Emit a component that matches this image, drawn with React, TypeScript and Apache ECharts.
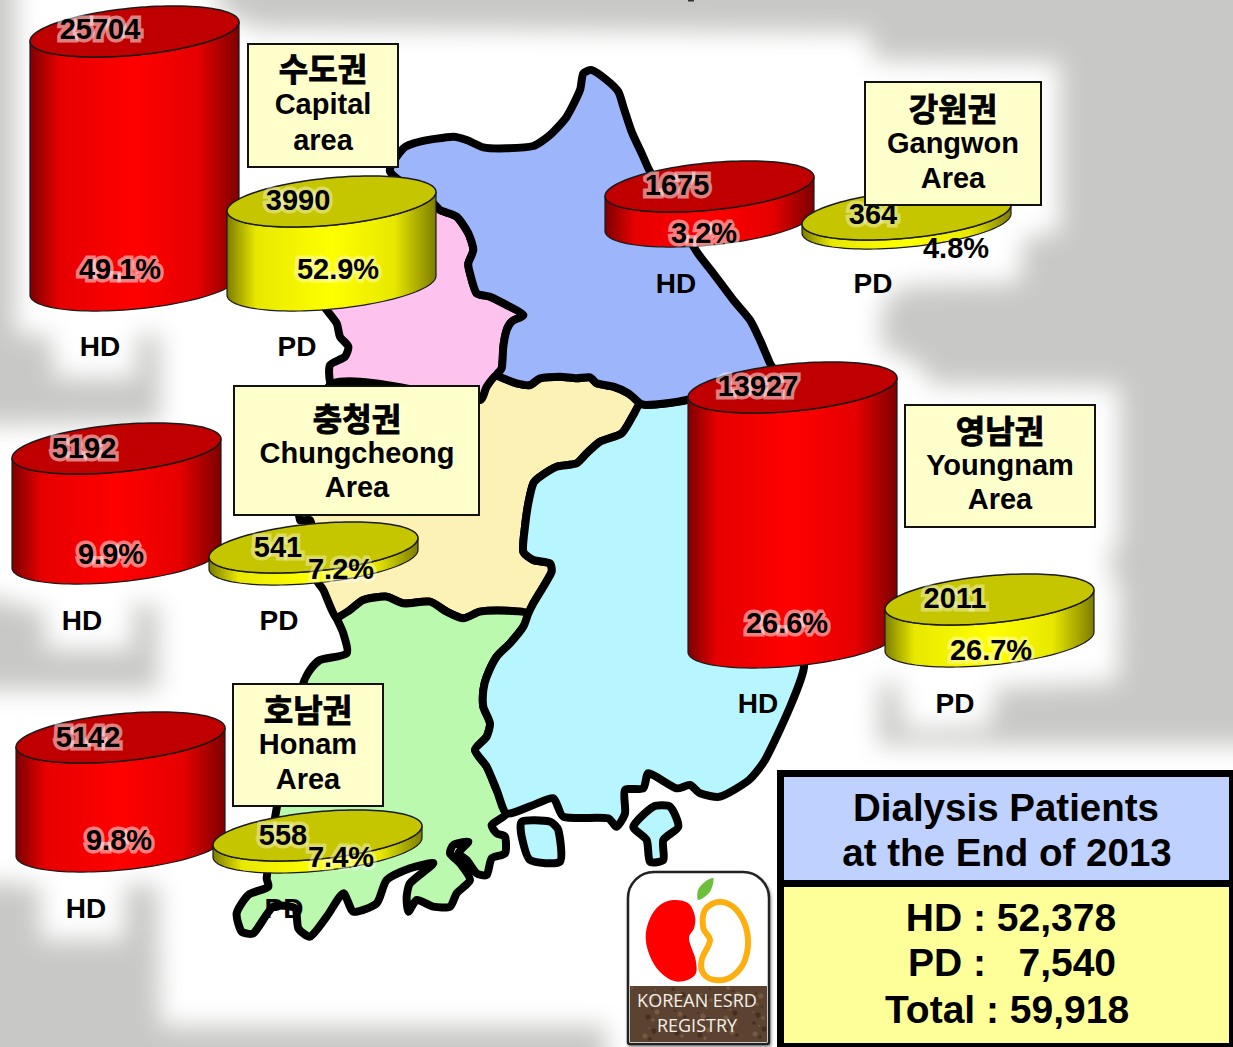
import React, { useEffect, useRef } from "react";
import * as echarts from "echarts";

// ---- data ----
const regionsKo = ["수도권", "강원권", "충청권", "호남권", "영남권"];
const regionsEn = [["Capital", "area"], ["Gangwon", "Area"], ["Chungcheong", "Area"], ["Honam", "Area"], ["Youngnam", "Area"]];
const hdValues = [25704, 1675, 5192, 5142, 13927];
const pdValues = [3990, 364, 541, 558, 2011];
const hdShare = ["49.1%", "3.2%", "9.9%", "9.8%", "26.6%"];
const pdShare = ["52.9%", "4.8%", "7.2%", "7.4%", "26.7%"];
const hdDrawnHeight = [254, 35, 110, 109, 255];
const pdDrawnHeight = [84, 9, 12, 12, 42];
const summaryTitle = ["Dialysis Patients", "at the End of 2013"];
const summaryLines = ["HD : 52,378", "PD :   7,540", "Total : 59,918"];

// ---- layout ----
const ARIAL = '"Liberation Sans", Arial, sans-serif';
const KO = '"Noto Sans CJK KR", sans-serif';
const hdAnchor = [[30, 6], [605, 161], [12, 423], [16, 712], [688, 362]];
const pdAnchor = [[227, 176], [802, 189], [209, 522], [213, 810], [885, 574]];
const hdValuePos = [[100, 30], [677, 186], [84, 449], [88, 738], [758, 387]];
const hdSharePos = [[120, 270], [704, 234], [111, 555], [119, 841], [787, 624]];
const pdValuePos = [[298, 201], [873, 215], [278, 548], [283, 836], [955, 599]];
const pdSharePos = [[338, 270], [956, 249], [341, 570], [341, 858], [991, 651]];
const hdTagPos = [[100, 347], [676, 284], [82, 621], [86, 909], [758, 704]];
const pdTagPos = [[297, 347], [873, 284], [279, 621], [284, 909], [955, 704]];
const boxes = [
  { x: 248, y: 44, w: 150, h: 123, cx: 323, ys: [68, 105, 141] },
  { x: 865, y: 82, w: 176, h: 123, cx: 953, ys: [108, 144, 179] },
  { x: 234, y: 386, w: 245, h: 129, cx: 357, ys: [418, 454, 488] },
  { x: 233, y: 684, w: 150, h: 122, cx: 308, ys: [709, 745, 780] },
  { x: 905, y: 405, w: 190, h: 122, cx: 1000, ys: [430, 466, 500] },
];

const z = (ox: number, oy: number, pts: number[][]) => pts.map(([x, y]) => [ox + x / 3, oy + y / 3]);

const whiteArea = [
  [15, -40], [215, -40], [218, 8], [255, 28], [868, 32], [875, 60], [1060, 62], [1060, 232], [1024, 238], [1020, 283], [908, 286],
  [884, 300], [880, 345], [925, 368], [928, 384], [1120, 386], [1120, 540], [1108, 560], [1120, 590], [1118, 682], [996, 688], [990, 727], [905, 730],
  [897, 682], [880, 682], [878, 745], [1300, 745], [1300, 1100], [606, 1100], [606, 1026], [160, 1026], [158, 885], [125, 885], [125, 940],
  [40, 940], [40, 886], [-40, 880], [-40, 690], [158, 690], [158, 605], [133, 605], [133, 650], [45, 650], [45, 612], [-40, 590],
  [-40, 425], [160, 422], [160, 335], [137, 335], [137, 378], [55, 378], [50, 335], [15, 335],
];

const blueSide = z(320, 60, [
  [210, 335], [250, 265], [300, 245], [400, 230], [440, 240], [490, 262], [560, 265], [640, 258], [690, 225], [740, 170], [780, 90],
  [790, 40], [815, 30], [860, 60], [895, 95], [910, 140], [935, 215], [965, 280], [990, 335], [1130, 575], [1180, 640], [1240, 720],
  [1290, 780], [1320, 840], [1350, 910], [1370, 950],
]);
const midBorder = z(300, 370, [
  [1160, 90], [1100, 100], [1040, 105], [1020, 100], [985, 70], [940, 50], [890, 40], [870, 22], [830, 25], [780, 20], [720, 25],
  [690, 45], [650, 40], [610, 25], [590, 15],
]);
const pinkBorder = z(320, 60, [
  [545, 925], [550, 860], [560, 810], [575, 785], [610, 765], [560, 735], [510, 710], [470, 700], [450, 640], [445, 610], [460, 570],
  [445, 520], [410, 470], [360, 450], [340, 430],
]);
const blueArea = [...blueSide, ...midBorder, ...pinkBorder];
const pinkArea = pinkBorder.concat(z(320, 60, [[100, 600], [0, 720], [20, 750], [50, 790], [60, 830], [85, 860], [75, 890], [30, 915], [30, 965], [60, 1050], [400, 1060], [500, 1000]]));
const paleEast = z(300, 370, [
  [1020, 100], [1000, 135], [965, 190], [900, 215], [860, 250], [830, 280], [770, 290], [720, 320], [700, 340], [685, 400], [675, 470],
  [670, 545], [700, 570], [750, 580], [755, 605], [730, 650], [700, 700], [685, 730],
]);
const paleSouth = z(300, 370, [
  [620, 722], [540, 725], [490, 745], [440, 725], [390, 695], [310, 700], [260, 680], [190, 690], [150, 720], [110, 745],
]);
const paleArea = [
  ...z(300, 370, [[540, 90], [560, 50], [590, 15], [610, 25], [650, 40], [690, 45], [720, 25], [780, 20], [830, 25], [870, 22], [890, 40], [940, 50], [985, 70]]),
  ...paleEast, ...paleSouth,
  ...z(300, 370, [[70, 660], [50, 630], [40, 500], [30, 450], [0, 450], [-10, 300], [100, 40]]),
];
const greenEast = z(220, 690, [
  [790, 0], [790, 50], [810, 100], [800, 140], [765, 180], [800, 230], [830, 300], [860, 370],
]);
const greenCoast = z(220, 690, [
  [815, 405], [830, 430], [855, 440], [855, 490], [815, 505], [800, 555], [770, 550], [740, 510], [715, 490], [745, 455], [700, 465], [690, 490],
  [720, 520], [750, 570], [710, 610], [690, 650], [640, 650], [590, 630], [565, 665], [560, 620], [570, 580], [640, 520], [570, 535], [500, 570],
  [470, 640], [400, 665], [370, 610], [320, 680], [270, 740], [235, 715], [225, 655], [160, 650], [100, 730], [65, 725], [50, 670], [85, 615], [145, 590],
  [140, 565], [170, 355],
]);
const greenArea = [
  ...z(300, 370, [[685, 730], [670, 770], [630, 820], [590, 860], [560, 920]]), ...greenEast, ...greenCoast,
  ...z(300, 370, [[10, 940], [30, 900], [60, 870], [140, 850], [130, 790], [110, 745]]),
  ...paleSouth.slice().reverse(),
];
const cyanArea = [
  ...z(300, 370, [[1020, 100], [1040, 105], [1100, 100], [1160, 90]]),
  [780, 390], [810, 500], [804, 667], [790, 707], [765, 760], [749, 780],
  ...z(220, 690, [[1500, 320], [1440, 310], [1410, 285], [1370, 295], [1285, 250], [1270, 295], [1215, 300], [1215, 370], [1190, 410], [1165, 385], [1030, 380], [1000, 325], [940, 345]]),
  ...greenEast.slice().reverse(),
  ...z(300, 370, [[560, 920], [590, 860], [630, 820], [670, 770]]),
  ...paleEast.slice().reverse().slice(0, -1),
];
const islandA = z(220, 690, [[905, 395], [990, 395], [1015, 420], [1020, 515], [930, 510], [905, 440]]);
const islandB = z(220, 690, [[1240, 410], [1300, 350], [1350, 350], [1375, 410], [1330, 450], [1330, 510], [1290, 515], [1280, 450]]);

const redKidney = z(620, 860, [[160, 120], [205, 130], [225, 170], [222, 205], [207, 232], [215, 265], [227, 300], [225, 345], [175, 365], [130, 345], [95, 300], [77, 235], [90, 175], [120, 135]]);
const orangeKidney = z(620, 860, [[300, 125], [350, 150], [382, 220], [375, 300], [335, 350], [285, 360], [250, 340], [245, 300], [270, 240], [250, 205], [255, 150]]);
const leaf = z(620, 860, [[280, 55], [270, 95], [235, 120], [234, 90], [255, 65]]);

const cylinderSeries = (name: string, values: number[], anchors: number[][], heights: number[], edge: string, bright: string, mid: string, cap: string) => ({
  type: "custom",
  name,
  coordinateSystem: "cartesian2d",
  clip: false,
  data: values.map((v, i) => [i, v]),
  encode: { x: 0, y: 1 },
  renderItem: (params: any, api: any) => {
    const i = params.dataIndex;
    const xe = 104.5, ye = 25.5, th = (5.5 * Math.PI) / 180, b = 23.6;
    const a = Math.sqrt((xe * xe - b * b * Math.sin(th) ** 2)) / Math.cos(th);
    const t0 = Math.atan((b * Math.tan(th)) / a);
    const pt = (c: number[], t: number) => [
      c[0] + a * Math.cos(t) * Math.cos(th) + b * Math.sin(t) * Math.sin(th),
      c[1] - a * Math.cos(t) * Math.sin(th) + b * Math.sin(t) * Math.cos(th),
    ];
    const N = 60;
    const [lx, ty] = anchors[i];
    const c = api.coord([lx + xe, ty + ye]);
    const d = api.coord([lx + xe, ty + ye + heights[i]]);
    // lower half of an ellipse, running from its left tangent point to its right one
    const lower = (e: number[]) => Array.from({ length: N + 1 }, (_, k) => pt(e, t0 + Math.PI - (Math.PI * k) / N));
    const upper = (e: number[]) => Array.from({ length: N + 1 }, (_, k) => pt(e, t0 + (Math.PI * -k) / N));
    const fill = new echarts.graphic.LinearGradient(0, 0, 1, 0, [
      { offset: 0, color: edge },
      { offset: 0.14, color: mid },
      { offset: 0.5, color: bright },
      { offset: 0.8, color: mid },
      { offset: 1, color: edge },
    ]);
    return {
      type: "group",
      children: [
        { type: "polygon", shape: { points: [...lower(c), ...lower(d).reverse()] }, style: { fill, stroke: "#1a1a1a", lineWidth: 1.2 } },
        { type: "polygon", shape: { points: [...lower(c), ...upper(c)] }, style: { fill: cap, stroke: "#1a1a1a", lineWidth: 1.5 } },
      ],
    };
  },
});

const label = (text: string, p: number[], font: string, halo?: string, zv = 10, heavy = false) => ({
  type: "text",
  z: zv,
  silent: true,
  x: p[0],
  y: p[1] - 1,
  style: {
    text,
    font,
    fill: "#000",
    textAlign: "center",
    textVerticalAlign: "middle",
    ...(halo ? { stroke: halo, lineWidth: 7 } : heavy ? { stroke: "#000", lineWidth: 0.9 } : {}),
  },
});

const land = (points: number[][], fill: string) => ({
  type: "polygon",
  z: -1,
  silent: true,
  shape: { points, smooth: 0.22 },
  style: { fill, stroke: "#000", lineWidth: 8, lineJoin: "round" },
});

const OFF = 1400;

const buildGraphics = () => {
  const els: any[] = [
    { type: "rect", z: -3, silent: true, shape: { x: 0, y: 0, width: 1233, height: 1047 }, style: { fill: "#c8c8c6" } },
    {
      type: "polygon", z: -2, silent: true,
      shape: { points: whiteArea.map(([x, y]) => [x - OFF, y]) },
      style: { fill: "#fff", shadowColor: "#fff", shadowBlur: 24, shadowOffsetX: OFF, shadowOffsetY: 0 },
    },
    { type: "rect", z: -1, silent: true, shape: { x: 688, y: 0, width: 6, height: 1.5 }, style: { fill: "#333" } },
    land(pinkArea, "#fdc2ee"),
    land(paleArea, "#fdf2b5"),
    land(greenArea, "#baf9ae"),
    land(cyanArea, "#b8f6ff"),
    land(blueArea, "#9db6fb"),
    land(islandA, "#b8f6ff"),
    land(islandB, "#b8f6ff"),
  ];
  const F = `bold 29px ${ARIAL}`;
  const TAG = `bold 28px ${ARIAL}`;
  const BOX = `bold 29px ${ARIAL}`;
  const pinkHalo = "rgba(255,255,255,0.5)";
  const paleHalo = "rgba(255,255,255,0.4)";
  regionsKo.forEach((ko, i) => {
    els.push(label(String(hdValues[i]), hdValuePos[i], F, pinkHalo));
    els.push(label(hdShare[i], hdSharePos[i], F, pinkHalo));
    els.push(label(String(pdValues[i]), pdValuePos[i], F, paleHalo));
    els.push(label(pdShare[i], pdSharePos[i], F, i === 1 ? undefined : paleHalo));
    els.push(label("HD", hdTagPos[i], TAG));
    els.push(label("PD", pdTagPos[i], TAG));
    const b = boxes[i];
    els.push({ type: "rect", z: 20, silent: true, shape: { x: b.x, y: b.y, width: b.w, height: b.h }, style: { fill: "#ffffcc", stroke: "#111", lineWidth: 2 } });
    els.push(label(ko, [b.cx, b.ys[0]], `bold 32px ${KO}`, undefined, 21, true));
    els.push(label(regionsEn[i][0], [b.cx, b.ys[1]], BOX, undefined, 21));
    els.push(label(regionsEn[i][1], [b.cx, b.ys[2]], BOX, undefined, 21));
  });
  // summary table
  els.push({ type: "rect", z: 20, silent: true, shape: { x: 777, y: 770, width: 456, height: 277 }, style: { fill: "#000" } });
  els.push({ type: "rect", z: 21, silent: true, shape: { x: 784, y: 777, width: 445, height: 103 }, style: { fill: "#bfd2ff" } });
  els.push({ type: "rect", z: 21, silent: true, shape: { x: 784, y: 887, width: 445, height: 156 }, style: { fill: "#ffff99" } });
  const S = `bold 38.5px ${ARIAL}`;
  els.push(label(summaryTitle[0], [1006, 808], S, undefined, 22));
  els.push(label(summaryTitle[1], [1007, 853], S, undefined, 22));
  const S2 = `bold 39px ${ARIAL}`;
  els.push(label(summaryLines[0], [1011, 918], S2, undefined, 22));
  els.push(label(summaryLines[1], [1012, 963], S2, undefined, 22));
  els.push(label(summaryLines[2], [1007, 1010], S2, undefined, 22));
  // registry logo
  els.push({ type: "rect", z: 20, silent: true, shape: { x: 628, y: 872, width: 141, height: 172, r: [26, 26, 2, 2] }, style: { fill: "#fff", stroke: "#222", lineWidth: 2.5, shadowColor: "rgba(0,0,0,0.45)", shadowBlur: 3, shadowOffsetX: 1, shadowOffsetY: 2 } });
  els.push({ type: "rect", z: 21, silent: true, shape: { x: 630, y: 986, width: 137, height: 56 }, style: { fill: "#5c4230" } });
  for (let k = 0; k < 70; k++) {
    // fixed speckle of the logo's soil band (decoration only)
    const sx = 632 + ((k * 53) % 133);
    const sy = 988 + ((k * 29) % 52);
    els.push({ type: "circle", z: 21, silent: true, shape: { cx: sx, cy: sy, r: 1 + (k % 3) * 0.8 }, style: { fill: k % 2 ? "#3d2a1c" : "#7d6146", opacity: 0.75 } });
  }
  els.push({ type: "polygon", z: 21, silent: true, shape: { points: redKidney, smooth: 0.35 }, style: { fill: "#fe0000" } });
  els.push({ type: "polygon", z: 21, silent: true, shape: { points: orangeKidney, smooth: 0.35 }, style: { fill: "none", stroke: "#ffae10", lineWidth: 6 } });
  els.push({ type: "polygon", z: 21, silent: true, shape: { points: leaf, smooth: 0.3 }, style: { fill: "#6cbf3a" } });
  const L = `18px "Open Sans", sans-serif`;
  els.push({ ...label("KOREAN ESRD", [697, 1001], L, undefined, 22), style: { ...label("KOREAN ESRD", [0, 0], L).style, fill: "#f4efe8" } });
  els.push({ ...label("REGISTRY", [697, 1026], L, undefined, 22), style: { ...label("REGISTRY", [0, 0], L).style, fill: "#f4efe8" } });
  return els;
};

export default function App() {
  const ref = useRef<HTMLDivElement>(null);
  useEffect(() => {
    document.body.style.margin = "0";
    const chart = echarts.init(ref.current!, undefined, { renderer: "svg" });
    chart.setOption({
      animation: false,
      grid: { left: 0, right: 0, top: 0, bottom: 0 },
      xAxis: { type: "value", min: 0, max: 1233, show: false },
      yAxis: { type: "value", min: 0, max: 1047, inverse: true, show: false },
      series: [
        cylinderSeries("HD", hdValues, hdAnchor, hdDrawnHeight, "#7d0000", "#ff0000", "#e60000", "#c00000"),
        cylinderSeries("PD", pdValues, pdAnchor, pdDrawnHeight, "#7d7d00", "#ffff00", "#e8e800", "#c6c600"),
      ],
      graphic: { elements: buildGraphics() },
    });
    return () => chart.dispose();
  }, []);
  return <div ref={ref} style={{ width: 1233, height: 1047 }} />;
}
